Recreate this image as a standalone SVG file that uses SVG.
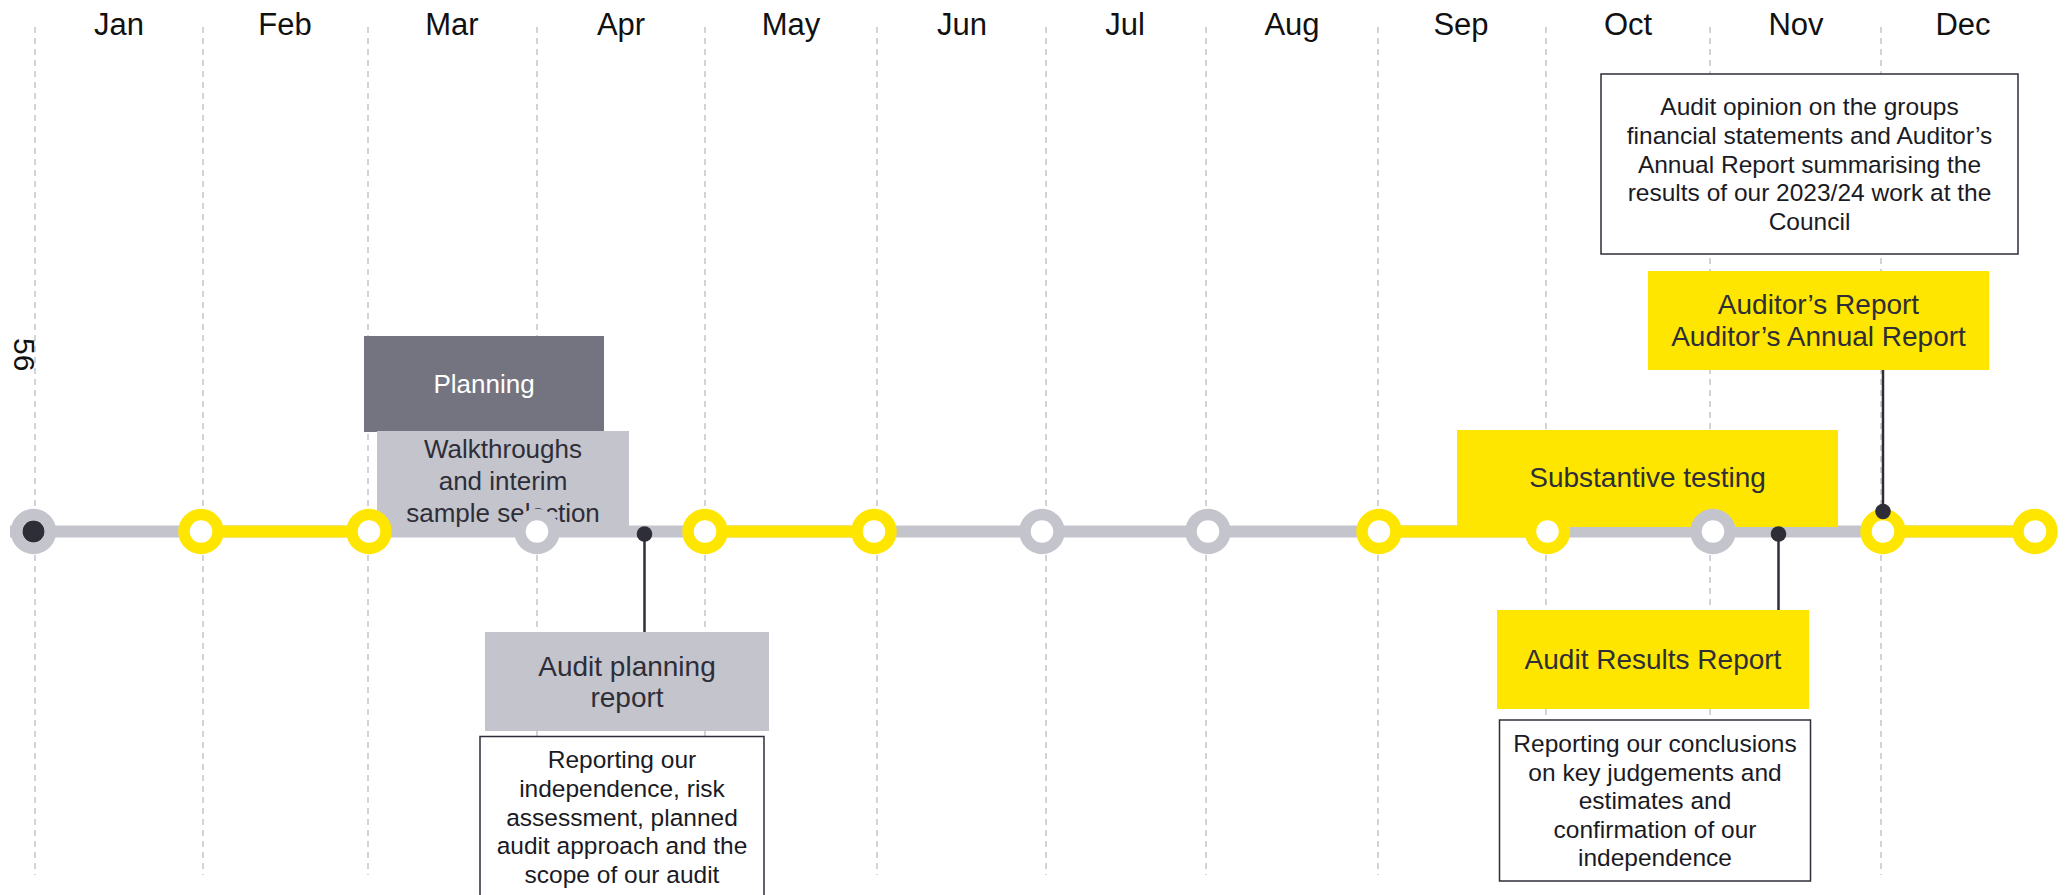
<svg xmlns="http://www.w3.org/2000/svg" width="2066" height="895" viewBox="0 0 2066 895">
<style>
.grid{stroke:#c4c4cd;stroke-width:1.5;stroke-dasharray:6 5}
.month{font-family:"Liberation Sans",Arial,sans-serif;font-size:31px;fill:#111;text-anchor:middle}
.lbl{font-family:"Liberation Sans",Arial,sans-serif;font-size:28px;fill:#2e2e38;text-anchor:middle}
.small{font-size:26px}
.white{fill:#fff}
.note{font-family:"Liberation Sans",Arial,sans-serif;font-size:24.5px;fill:#1a1a24;text-anchor:middle}
.track{stroke-width:12;fill:none}
.gray{stroke:#c4c4cd}
.yel{stroke:#ffe600}
.ring{fill:#fff;stroke-width:11.5}
.pin{stroke:#2e2e38;stroke-width:2.5}
.dot{fill:#2e2e38}
.ybox{fill:#ffe600}
.gbox{fill:#c4c4cd}
.dbox{fill:#747480}
.wbox{fill:#fff;stroke:#2e2e38;stroke-width:1.5}
</style>
<rect width="2066" height="895" fill="#fff"/>
<g id="grid">
<line class="grid" x1="35" y1="27" x2="35" y2="875"/>
<line class="grid" x1="203" y1="27" x2="203" y2="875"/>
<line class="grid" x1="368" y1="27" x2="368" y2="875"/>
<line class="grid" x1="537" y1="27" x2="537" y2="875"/>
<line class="grid" x1="705" y1="27" x2="705" y2="875"/>
<line class="grid" x1="877" y1="27" x2="877" y2="875"/>
<line class="grid" x1="1046" y1="27" x2="1046" y2="875"/>
<line class="grid" x1="1206" y1="27" x2="1206" y2="875"/>
<line class="grid" x1="1378" y1="27" x2="1378" y2="875"/>
<line class="grid" x1="1546" y1="27" x2="1546" y2="875"/>
<line class="grid" x1="1710" y1="27" x2="1710" y2="875"/>
<line class="grid" x1="1881" y1="27" x2="1881" y2="875"/>
</g>
<g id="months">
<text class="month" x="119" y="35">Jan</text>
<text class="month" x="285" y="35">Feb</text>
<text class="month" x="452" y="35">Mar</text>
<text class="month" x="621" y="35">Apr</text>
<text class="month" x="791" y="35">May</text>
<text class="month" x="962" y="35">Jun</text>
<text class="month" x="1125" y="35">Jul</text>
<text class="month" x="1292" y="35">Aug</text>
<text class="month" x="1461" y="35">Sep</text>
<text class="month" x="1628" y="35">Oct</text>
<text class="month" x="1796" y="35">Nov</text>
<text class="month" x="1963" y="35">Dec</text>
</g>
<text id="page-number" transform="translate(14,338) rotate(90)" font-family="Liberation Sans, Arial, sans-serif" font-size="30" fill="#111">56</text>
<g id="timeline">
<line class="track gray" x1="10" y1="531.5" x2="2035" y2="531.5"/>
<line class="track yel" x1="201" y1="531.5" x2="369" y2="531.5"/>
<line class="track yel" x1="705" y1="531.5" x2="874" y2="531.5"/>
<line class="track yel" x1="1379" y1="531.5" x2="1547" y2="531.5"/>
<line class="track yel" x1="1883" y1="531.5" x2="2035" y2="531.5"/>
</g>
<g id="planning">
<rect class="dbox" x="364" y="336" width="240" height="96"/>
<text class="lbl small white" x="484" y="393">Planning</text>
</g>
<g id="walkthroughs">
<rect class="gbox" x="377" y="431" width="252" height="100"/>
<text class="lbl small" x="503" y="458">Walkthroughs</text>
<text class="lbl small" x="503" y="490">and interim</text>
<text class="lbl small" x="503" y="522">sample selection</text>
</g>
<g id="audit-planning-report">
<rect class="gbox" x="485" y="632" width="284" height="99"/>
<text class="lbl" x="627" y="676">Audit planning</text>
<text class="lbl" x="627" y="707">report</text>
</g>
<g id="planning-note">
<rect class="wbox" x="480" y="736.5" width="284" height="175"/>
<text class="note" x="622" y="768">Reporting our</text>
<text class="note" x="622" y="797">independence, risk</text>
<text class="note" x="622" y="826">assessment, planned</text>
<text class="note" x="622" y="854">audit approach and the</text>
<text class="note" x="622" y="883">scope of our audit</text>
</g>
<g id="substantive-testing">
<rect class="ybox" x="1457" y="430" width="381" height="97"/>
<text class="lbl" x="1647.5" y="487">Substantive testing</text>
</g>
<g id="audit-results-report">
<rect class="ybox" x="1497" y="610" width="312" height="99"/>
<text class="lbl" x="1653" y="669">Audit Results Report</text>
</g>
<g id="results-note">
<rect class="wbox" x="1499.5" y="720" width="311" height="161"/>
<text class="note" x="1655" y="752">Reporting our conclusions</text>
<text class="note" x="1655" y="781">on key judgements and</text>
<text class="note" x="1655" y="809">estimates and</text>
<text class="note" x="1655" y="838">confirmation of our</text>
<text class="note" x="1655" y="866">independence</text>
</g>
<g id="opinion-note">
<rect class="wbox" x="1601" y="74" width="417" height="180"/>
<text class="note" x="1809.5" y="115">Audit opinion on the groups</text>
<text class="note" x="1809.5" y="144">financial statements and Auditor’s</text>
<text class="note" x="1809.5" y="173">Annual Report summarising the</text>
<text class="note" x="1809.5" y="201">results of our 2023/24 work at the</text>
<text class="note" x="1809.5" y="230">Council</text>
</g>
<g id="auditors-report">
<rect class="ybox" x="1648" y="271" width="341" height="99"/>
<text class="lbl" x="1818.5" y="314">Auditor’s Report</text>
<text class="lbl" x="1818.5" y="346">Auditor’s Annual Report</text>
</g>
<g id="milestones">
<circle class="ring gray" cx="33.5" cy="531.5" r="17"/>
<circle class="dot" cx="33.5" cy="531.5" r="11"/>
<circle class="ring yel" cx="201" cy="531.5" r="17"/>
<circle class="ring yel" cx="369" cy="531.5" r="17"/>
<circle class="ring gray" cx="537" cy="531.5" r="17"/>
<circle class="ring yel" cx="705" cy="531.5" r="17"/>
<circle class="ring yel" cx="874" cy="531.5" r="17"/>
<circle class="ring gray" cx="1042" cy="531.5" r="17"/>
<circle class="ring gray" cx="1208" cy="531.5" r="17"/>
<circle class="ring yel" cx="1379" cy="531.5" r="17"/>
<circle class="ring yel" cx="1547.5" cy="531.5" r="17"/>
<circle class="ring gray" cx="1713" cy="531.5" r="17"/>
<circle class="ring yel" cx="1883" cy="531.5" r="17"/>
<circle class="ring yel" cx="2035" cy="531.5" r="17"/>
</g>
<g id="connectors">
<line class="pin" x1="644.5" y1="534" x2="644.5" y2="632"/>
<circle class="dot" cx="644.5" cy="534" r="7.8"/>
<line class="pin" x1="1778.5" y1="534" x2="1778.5" y2="610"/>
<circle class="dot" cx="1778.5" cy="534" r="7.8"/>
<line class="pin" x1="1883" y1="370" x2="1883" y2="511"/>
<circle class="dot" cx="1883" cy="511.5" r="7.8"/>
</g>
</svg>
